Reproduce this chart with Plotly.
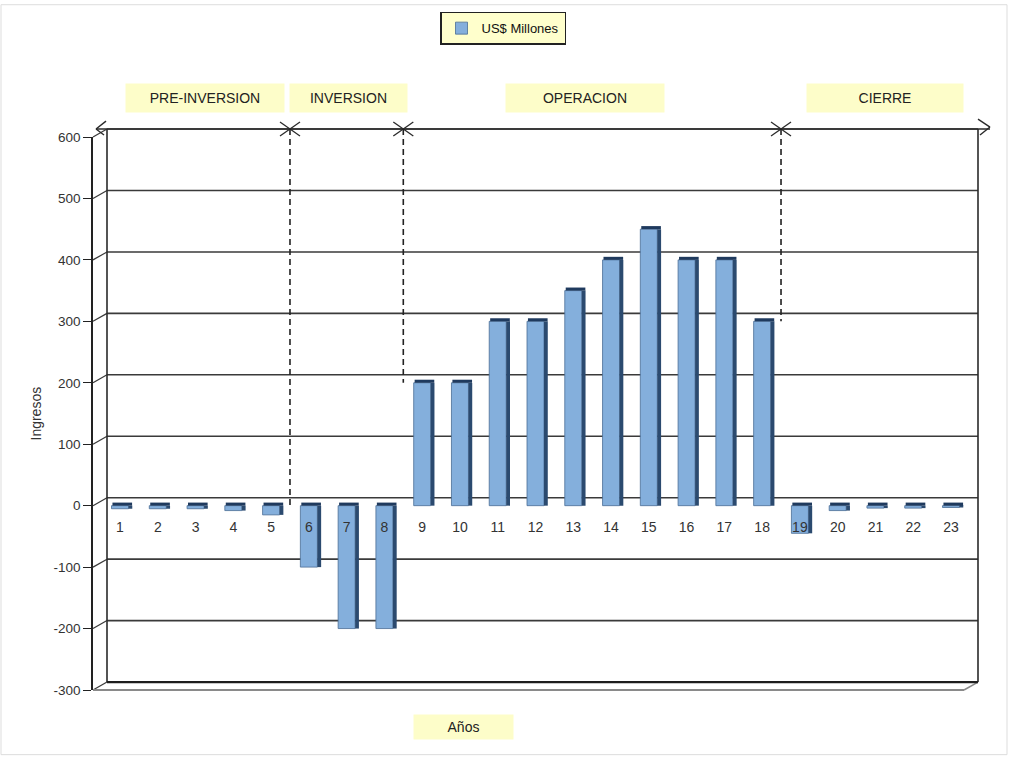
import plotly.graph_objects as go

# ---- data ----
years = list(range(1, 24))
year_labels = [str(y) for y in years]
ingresos = [-5, -5, -5, -8, -15, -100, -200, -200, 200, 200, 300, 300, 350,
            400, 450, 400, 400, 300, -45, -8, -4, -4, -3]
y_ticks = [-300, -200, -100, 0, 100, 200, 300, 400, 500, 600]
y_tick_labels = ["-300", "-200", "-100", "0", "100", "200", "300", "400", "500", "600"]
phase_names = ["PRE-INVERSION", "INVERSION", "OPERACION", "CIERRE"]
phase_bounds = [5.5, 8.5, 18.5]          # boundaries between phases (in years)
phase_bound_levels = [0, 200, 300]       # where the dashed separators end
series_name = "US$ Millones"

# ---- geometry (pixels) ----
FW, FH = 1010, 758
L, R, T, B = 93, 978, 134, 690
W, H = R - L, B - T
XMIN, XMAX = 0.285, 23.715
YMIN, YMAX = -300, 600
DX, DY = 14, -8  # 3D depth offset of the back wall


def px(xp):
    return (xp - L) / W


def py(yp):
    return (B - yp) / H


def xpix(c):
    return L + (c - XMIN) / (XMAX - XMIN) * W


def ypix(v):
    return B - (v - YMIN) / (YMAX - YMIN) * H


DARK = "#333333"
shapes = []


def seg(x0, y0, x1, y1, color=DARK, width=1.5, dash="solid", layer="below"):
    shapes.append(dict(type="line", xref="paper", yref="paper",
                       x0=px(x0), y0=py(y0), x1=px(x1), y1=py(y1),
                       line=dict(color=color, width=width, dash=dash), layer=layer))


# back wall gridlines + diagonal connectors at ticks
for v in y_ticks:
    yf = ypix(v)
    seg(L + DX, yf + DY, R, yf + DY, color="#3a3a3a", width=1.6)
    seg(L, yf, L + DX, yf + DY, color="#3a3a3a", width=1.2)

# back wall verticals
seg(L + DX, ypix(YMAX) + DY, L + DX, ypix(YMIN) + DY, color="#2a2a2a", width=1.6)
seg(R, ypix(YMAX) + DY, R, ypix(YMIN) + DY, color="#2a2a2a", width=1.6)
# floor front edge
seg(L, B, R - DX, B, color="#8a8a8a", width=2)
seg(R - DX, B, R, B + DY, color="#8a8a8a", width=1.5)
seg(L + DX, B + DY, R, B + DY, color="#1e1e1e", width=2.2)

# top arrow line
ya = ypix(YMAX) + DY
seg(96, ya, 990, ya, color="#2a2a2a", width=1.6, layer="above")
seg(96, ya, 106, ya - 8, color="#2a2a2a", width=1.4, layer="above")
seg(96, ya, 104, ya + 6, color="#2a2a2a", width=1.4, layer="above")
seg(990, ya - 2, 978, ya - 10, color="#2a2a2a", width=1.4, layer="above")
seg(990, ya - 2, 980, ya + 6, color="#2a2a2a", width=1.4, layer="above")

# phase separators: X markers and dashed lines
for b, lev in zip(phase_bounds, phase_bound_levels):
    xb = xpix(b)
    seg(xb - 10, ya - 7, xb + 10, ya + 7, color="#2a2a2a", width=1.3, layer="above")
    seg(xb - 10, ya + 7, xb + 10, ya - 7, color="#2a2a2a", width=1.3, layer="above")
    seg(xb, ya, xb, ypix(lev), color="#222222", width=1.6, dash="6px,4px", layer="above")

# outer frame
shapes.append(dict(type="rect", xref="paper", yref="paper",
                   x0=px(1), y0=py(1), x1=px(FW - 3), y1=py(FH - 3),
                   line=dict(color="#dddddd", width=1), layer="below"))

# ---- annotations ----
BOX = "#fdfdc9"
FONT = "Liberation Sans, Arial, sans-serif"
annotations = []
phase_centers = [205, 348, 585, 885]
phase_widths = [156, 115, 156, 154]
for name, cx, w in zip(phase_names, phase_centers, phase_widths):
    annotations.append(dict(xref="paper", yref="paper", x=px(cx), y=py(95),
                            text=name, showarrow=False, bgcolor=BOX,
                            width=w, height=26, xanchor="center", yanchor="middle",
                            font=dict(family=FONT, size=14, color="#222222")))
annotations.append(dict(xref="paper", yref="paper", x=px(463), y=py(727),
                        text="Años", showarrow=False, bgcolor=BOX,
                        width=97, height=22, xanchor="center", yanchor="middle",
                        font=dict(family=FONT, size=14, color="#222222")))
annotations.append(dict(xref="paper", yref="paper", x=px(35), y=py(412),
                        text="Ingresos", showarrow=False, textangle=-90,
                        xanchor="center", yanchor="middle",
                        font=dict(family=FONT, size=14, color="#333333")))

# top face of each bar sits at the top of the bar (or at zero for negatives)
bar_tops = [max(v, 0) for v in ingresos]
cap_height = [5] * len(ingresos)

fig = go.Figure()
fig.add_trace(go.Bar(x=years, y=ingresos, width=0.45, offset=-0.225,
                     name=series_name,
                     marker=dict(color="#84afdc", line=dict(color="#4a6d96", width=0.8))))
fig.add_trace(go.Bar(x=years, y=ingresos, width=0.1, offset=0.225,
                     showlegend=False,
                     marker=dict(color="#2b4a6f", line=dict(width=0))))
fig.add_trace(go.Bar(x=years, y=cap_height, base=bar_tops, width=0.52, offset=-0.2,
                     showlegend=False,
                     marker=dict(color="#1f3a5e", line=dict(width=0))))

fig.update_layout(
    width=FW, height=FH,
    margin=dict(l=L, r=FW - R, t=T, b=FH - B),
    paper_bgcolor="white", plot_bgcolor="rgba(0,0,0,0)",
    barmode="overlay",
    showlegend=True,
    legend=dict(x=px(440), y=py(8), xanchor="left", yanchor="top",
                bgcolor="#ffffcc", bordercolor="#222222", borderwidth=1.5,
                font=dict(family=FONT, size=13, color="#111111"),
                itemwidth=30),
    xaxis=dict(range=[XMIN, XMAX], tickvals=years, ticktext=year_labels,
               anchor="free", position=(0 - YMIN) / (YMAX - YMIN),
               showline=False, showgrid=False, zeroline=False, ticks="",
               ticklabelstandoff=11,
               tickfont=dict(family=FONT, size=14, color="#333333")),
    yaxis=dict(range=[YMIN, YMAX], tickvals=y_ticks, ticktext=y_tick_labels,
               showgrid=False, zeroline=False, showline=True,
               linecolor="#222222", linewidth=1.6,
               ticks="outside", ticklen=8, tickcolor="#222222", tickwidth=1.2,
               tickfont=dict(family=FONT, size=13.5, color="#333333")),
    shapes=shapes,
    annotations=annotations,
    hovermode=False,
)

fig.write_html("out.html", config={"displayModeBar": False})
